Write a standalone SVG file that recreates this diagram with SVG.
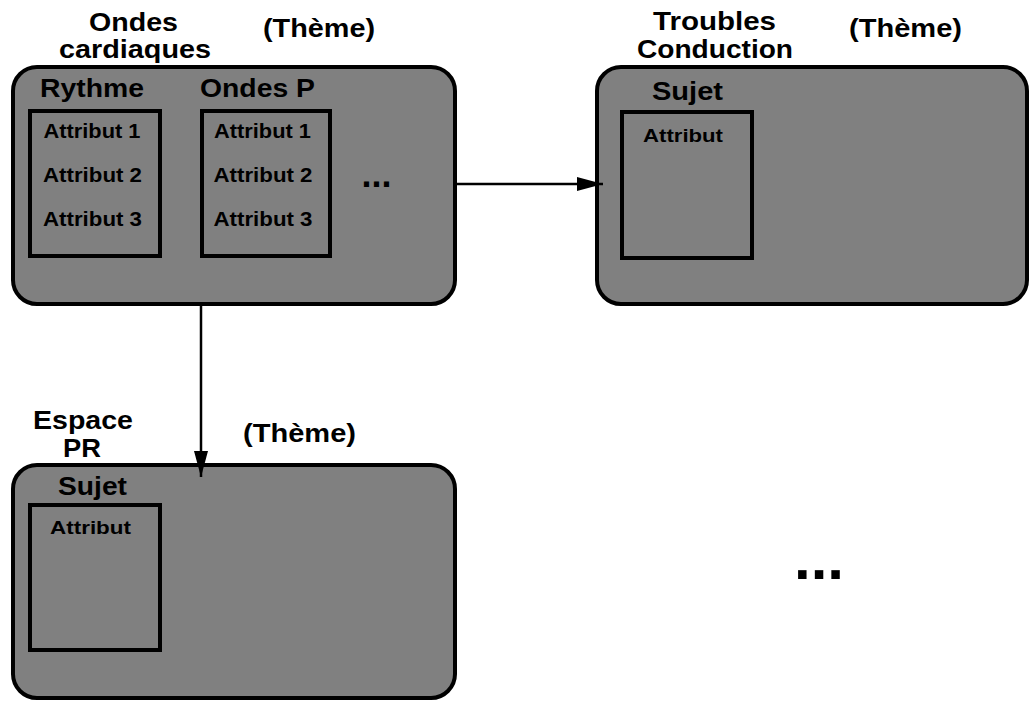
<svg xmlns="http://www.w3.org/2000/svg" width="1030" height="702" viewBox="0 0 1030 702">
<defs>
<style>
.theme{fill:#808080;stroke:#000;stroke-width:4}
.ent{fill:none;stroke:#000;stroke-width:4}
text{font-family:"Liberation Sans",Arial,sans-serif;font-weight:bold;fill:#000;text-anchor:middle}
.t1{font-size:25px}
.t2{font-size:26px}
.t3{font-size:20px}
.t4{font-size:18px}
.conn{stroke:#000;stroke-width:2.5;fill:none}
</style>
<marker id="arr" markerWidth="26" markerHeight="14" refX="26" refY="7" orient="auto" markerUnits="userSpaceOnUse">
<path d="M0,0 L26,7 L0,14 Z" fill="#000"/>
</marker>
</defs>
<g id="theme-ondes">
<rect class="theme" x="13" y="67" width="442" height="237" rx="24"/>
<text class="t1" x="133.5" y="31" textLength="89" lengthAdjust="spacingAndGlyphs">Ondes</text>
<text class="t1" x="135" y="58" textLength="152" lengthAdjust="spacingAndGlyphs">cardiaques</text>
<text class="t1" x="319" y="37" textLength="112" lengthAdjust="spacingAndGlyphs">(Thème)</text>
<g id="sujet-rythme">
<text class="t2" x="92" y="97" textLength="104" lengthAdjust="spacingAndGlyphs">Rythme</text>
<rect class="ent" x="30" y="111" width="130" height="145"/>
<text class="t3" x="92" y="138" textLength="97" lengthAdjust="spacingAndGlyphs">Attribut 1</text>
<text class="t3" x="92.5" y="182" textLength="99" lengthAdjust="spacingAndGlyphs">Attribut 2</text>
<text class="t3" x="92.5" y="226" textLength="99" lengthAdjust="spacingAndGlyphs">Attribut 3</text>
</g>
<g id="sujet-ondesp">
<text class="t2" x="257.5" y="97" textLength="115" lengthAdjust="spacingAndGlyphs">Ondes P</text>
<rect class="ent" x="202" y="111" width="128" height="145"/>
<text class="t3" x="262.5" y="138" textLength="97" lengthAdjust="spacingAndGlyphs">Attribut 1</text>
<text class="t3" x="263" y="182" textLength="99" lengthAdjust="spacingAndGlyphs">Attribut 2</text>
<text class="t3" x="263" y="226" textLength="99" lengthAdjust="spacingAndGlyphs">Attribut 3</text>
</g>
<text x="376.5" y="187" style="font-size:36px">...</text>
</g>
<g id="theme-troubles">
<rect class="theme" x="597" y="67" width="430" height="237" rx="24"/>
<text class="t1" x="714.5" y="30" textLength="123" lengthAdjust="spacingAndGlyphs">Troubles</text>
<text class="t1" x="715" y="58" textLength="156" lengthAdjust="spacingAndGlyphs">Conduction</text>
<text class="t1" x="905.5" y="37" textLength="113" lengthAdjust="spacingAndGlyphs">(Thème)</text>
<g id="sujet-troubles">
<text class="t2" x="687.5" y="100" textLength="71" lengthAdjust="spacingAndGlyphs">Sujet</text>
<rect class="ent" x="622" y="112" width="130" height="146"/>
<text class="t4" x="683" y="142" textLength="80" lengthAdjust="spacingAndGlyphs">Attribut</text>
</g>
</g>
<g id="theme-espace">
<rect class="theme" x="13" y="465" width="442" height="233" rx="24"/>
<text class="t1" x="83" y="429" textLength="100" lengthAdjust="spacingAndGlyphs">Espace</text>
<text class="t1" x="82" y="457" textLength="38" lengthAdjust="spacingAndGlyphs">PR</text>
<text class="t1" x="299.5" y="442" textLength="113" lengthAdjust="spacingAndGlyphs">(Thème)</text>
<g id="sujet-espace">
<text class="t2" x="92.5" y="495" textLength="69" lengthAdjust="spacingAndGlyphs">Sujet</text>
<rect class="ent" x="30" y="505" width="130" height="145"/>
<text class="t4" x="90.5" y="534" textLength="81" lengthAdjust="spacingAndGlyphs">Attribut</text>
</g>
</g>
<g id="connectors">
<line class="conn" x1="457" y1="184" x2="603" y2="184" marker-end="url(#arr)"/>
<line class="conn" x1="201" y1="306" x2="201" y2="477" marker-end="url(#arr)"/>
</g>
<text x="819" y="579" style="font-size:60px">...</text>
</svg>
